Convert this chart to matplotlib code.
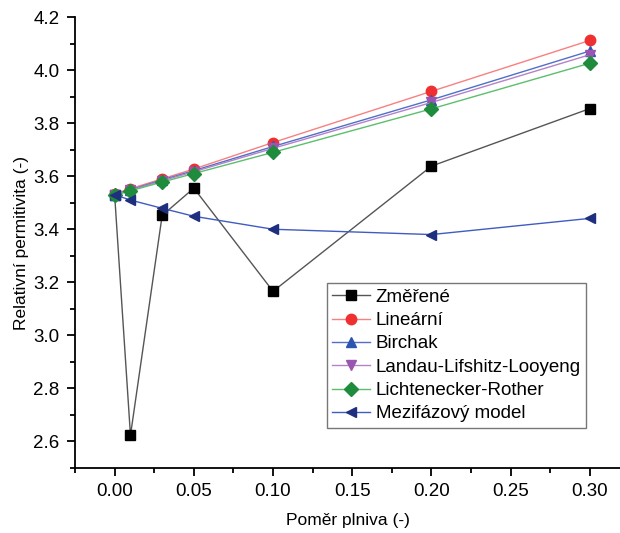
import matplotlib.pyplot as plt
from matplotlib.ticker import MultipleLocator, FormatStrFormatter

plt.rcParams['font.family'] = ['Liberation Sans', 'DejaVu Sans']

# === Data ===
x = [0.0, 0.01, 0.03, 0.05, 0.10, 0.20, 0.30]
zmerene = [3.53, 2.623, 3.452, 3.555, 3.166, 3.638, 3.855]
linearni = [3.533, 3.553, 3.590, 3.627, 3.727, 3.920, 4.112]
birchak = [3.531, 3.549, 3.586, 3.621, 3.712, 3.888, 4.072]
lll = [3.530, 3.547, 3.583, 3.617, 3.705, 3.878, 4.058]
lr = [3.528, 3.545, 3.578, 3.610, 3.690, 3.854, 4.026]
mezifazovy = [3.53, 3.510, 3.479, 3.449, 3.400, 3.380, 3.441]

series = [
    ("Změřené", zmerene, "s", "#000000", "#555555"),
    ("Lineární", linearni, "o", "#f03030", "#f88080"),
    ("Birchak", birchak, "^", "#2a56b0", "#4f6fc8"),
    ("Landau-Lifshitz-Looyeng", lll, "v", "#9a55b0", "#b482c8"),
    ("Lichtenecker-Rother", lr, "D", "#1e8c3c", "#5cbf6c"),
    ("Mezifázový model", mezifazovy, "<", "#1f2f80", "#3f5cc0"),
]

fig = plt.figure(figsize=(6.2, 5.33), dpi=100)
ax = fig.add_axes([0.121, 0.122, 0.879, 0.846])

for name, vals, mk, mcol, lcol in series:
    ms = 7.5 if mk != "D" else 7
    ax.plot(x, vals, color=lcol, lw=1.0, marker=mk, markersize=ms,
            markerfacecolor=mcol, markeredgecolor=mcol, label=name)

ax.set_xlim(-0.025, 0.319)
ax.set_ylim(2.5, 4.2)
ax.xaxis.set_major_locator(MultipleLocator(0.05))
ax.xaxis.set_minor_locator(MultipleLocator(0.025))
ax.yaxis.set_major_locator(MultipleLocator(0.2))
ax.yaxis.set_minor_locator(MultipleLocator(0.1))
ax.xaxis.set_major_formatter(FormatStrFormatter('%.2f'))
ax.yaxis.set_major_formatter(FormatStrFormatter('%.1f'))
ax.set_xticks([0.0, 0.05, 0.10, 0.15, 0.20, 0.25, 0.30])

ax.spines['top'].set_visible(False)
ax.spines['right'].set_visible(False)
ax.spines['left'].set_linewidth(1.3)
ax.spines['bottom'].set_linewidth(1.3)
ax.tick_params(which='major', direction='out', length=6, width=1.3,
               labelsize=13.5, pad=5)
ax.tick_params(which='minor', direction='out', length=3.5, width=1.3)

ax.set_xlabel("Poměr plniva (-)", fontsize=12.5, labelpad=9)
ax.set_ylabel("Relativní permitivita (-)", fontsize=12.5, labelpad=3)

leg = ax.legend(loc='upper left', bbox_to_anchor=(0.462, 0.41), fontsize=13.5,
                frameon=True, fancybox=False, edgecolor='#555555',
                handlelength=2.0, handletextpad=0.3, labelspacing=0.33,
                borderpad=0.3, borderaxespad=0)
leg.get_frame().set_linewidth(1.0)

plt.savefig("out.png", dpi=100)
